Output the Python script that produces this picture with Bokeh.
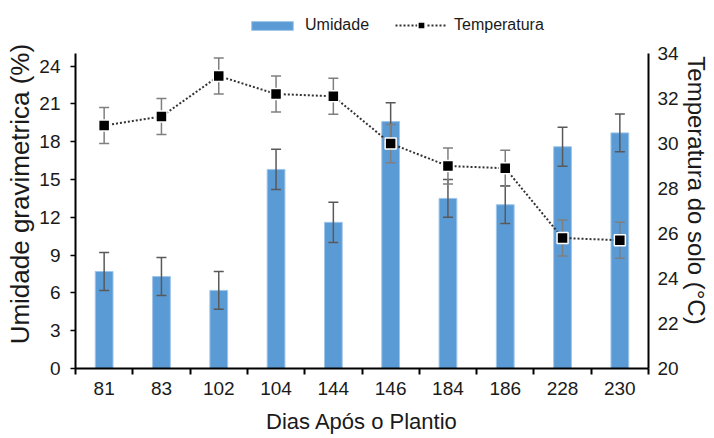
from bokeh.plotting import figure
from bokeh.models import (Range1d, LinearAxis, FixedTicker, Legend, LegendItem,
                          ColumnDataSource, Title)
from bokeh.embed import file_html
from bokeh.resources import INLINE

# ---- data ----
dias = ["81", "83", "102", "104", "144", "146", "184", "186", "228", "230"]
umidade = [7.7, 7.3, 6.2, 15.8, 11.6, 19.6, 13.5, 13.0, 17.6, 18.7]
umidade_err = [1.5, 1.5, 1.5, 1.6, 1.6, 1.5, 1.5, 1.5, 1.55, 1.5]
temperatura = [30.8, 31.2, 33.0, 32.2, 32.1, 30.0, 29.0, 28.9, 25.8, 25.7]
temp_err = [0.8, 0.8, 0.8, 0.8, 0.8, 0.85, 0.8, 0.8, 0.8, 0.8]
left_ticks = [0, 3, 6, 9, 12, 15, 18, 21, 24]
left_bounds = (0, 25)
right_ticks = [20, 22, 24, 26, 28, 30, 32, 34]
right_bounds = (20, 34)

FONT = "Liberation Sans"
BLUE = "#5B9BD5"
TXT = "#1a1a1a"

# frame geometry (pixels): axes span 315 px, frame extended 41 px above for legend
AXIS_PX, EXTRA_PX = 315, 41
scale = (AXIS_PX + EXTRA_PX) / AXIS_PX

xs = list(range(len(dias)))
src = ColumnDataSource(dict(
    x=xs,
    um=umidade,
    um_lo=[u - e for u, e in zip(umidade, umidade_err)],
    um_hi=[u + e for u, e in zip(umidade, umidade_err)],
    t=temperatura,
    t_lo=[t - e for t, e in zip(temperatura, temp_err)],
    t_hi=[t + e for t, e in zip(temperatura, temp_err)],
))

p = figure(width=714, height=438, output_backend="svg", toolbar_location=None,
           x_range=Range1d(-0.5, len(dias) - 0.5),
           y_range=Range1d(left_bounds[0],
                           left_bounds[0] + (left_bounds[1] - left_bounds[0]) * scale),
           min_border_left=75, min_border_right=66, min_border_top=12,
           min_border_bottom=70)
p.outline_line_color = None
p.xgrid.visible = False
p.ygrid.visible = False
p.extra_y_ranges = {"temp": Range1d(right_bounds[0],
                                    right_bounds[0] + (right_bounds[1] - right_bounds[0]) * scale)}

# bars
bars = p.vbar(x="x", top="um", width=0.31, source=src, fill_color=BLUE,
              line_color="#9FC5EA", line_width=1)
# bar error bars
p.segment(x0="x", x1="x", y0="um_lo", y1="um_hi", source=src,
          line_color="#595959", line_width=1.5)
p.scatter(x="x", y="um_lo", marker="dash", size=10, source=src,
          line_color="#595959", line_width=1.5)
p.scatter(x="x", y="um_hi", marker="dash", size=10, source=src,
          line_color="#595959", line_width=1.5)

# temperature
tline = p.line(x="x", y="t", source=src, y_range_name="temp",
               line_color="#333333", line_width=2, line_dash="2 2")
p.segment(x0="x", x1="x", y0="t_lo", y1="t_hi", source=src, y_range_name="temp",
          line_color="#7F7F7F", line_width=1.5)
p.scatter(x="x", y="t_lo", marker="dash", size=10, source=src, y_range_name="temp",
          line_color="#7F7F7F", line_width=1.5)
p.scatter(x="x", y="t_hi", marker="dash", size=10, source=src, y_range_name="temp",
          line_color="#7F7F7F", line_width=1.5)
tmark = p.scatter(x="x", y="t", marker="square", size=11, source=src,
                  y_range_name="temp", fill_color="black", line_color="white",
                  line_width=1.5)

# ---- axes ----
xa = p.xaxis[0]
xa.ticker = FixedTicker(ticks=xs, minor_ticks=[i - 0.5 for i in range(len(dias) + 1)])
xa.major_label_overrides = {i: lab for i, lab in enumerate(dias)}
xa.major_tick_line_color = None
xa.major_tick_out = 6
xa.minor_tick_in = 0
xa.minor_tick_out = 6
xa.minor_tick_line_color = "black"
xa.minor_tick_line_width = 2
xa.axis_line_width = 2
xa.axis_line_color = "black"
xa.major_label_text_font = FONT
xa.major_label_text_font_size = "19px"
xa.major_label_text_color = TXT
xa.major_label_standoff = 7
xa.axis_label = "Dias Após o Plantio"
xa.axis_label_text_font = FONT
xa.axis_label_text_font_size = "22px"
xa.axis_label_text_font_style = "normal"
xa.axis_label_text_color = TXT
xa.axis_label_standoff = 11

ya = p.yaxis[0]
ya.ticker = FixedTicker(ticks=left_ticks)
ya.bounds = left_bounds
ya.minor_tick_line_color = None
ya.major_tick_in = 0
ya.major_tick_out = 5
ya.major_tick_line_width = 1.5
ya.axis_line_width = 2
ya.axis_line_color = "black"
ya.major_label_text_font = FONT
ya.major_label_text_font_size = "19px"
ya.major_label_text_color = TXT
ya.major_label_standoff = 10

# left axis title, centred on the axis span (not on the extended frame)
ytitle = Title(text="Umidade gravimetrica  (%)", align="center", offset=-32,
               standoff=3, text_font=FONT, text_font_size="26px",
               text_font_style="normal", text_color=TXT)
p.add_layout(ytitle, "left")

ra = LinearAxis(y_range_name="temp", ticker=FixedTicker(ticks=right_ticks),
                bounds=right_bounds)
ra.minor_tick_line_color = None
ra.major_tick_line_color = None
ra.major_tick_in = 0
ra.major_tick_out = 0
ra.axis_line_width = 2
ra.axis_line_color = "black"
ra.major_label_text_font = FONT
ra.major_label_text_font_size = "19px"
ra.major_label_text_color = TXT
ra.major_label_standoff = 9
p.add_layout(ra, "right")

rtitle = Title(text="Temperatura do solo (°C)", align="center", offset=32,
               standoff=3, text_font=FONT, text_font_size="24px",
               text_font_style="normal", text_color=TXT)
p.add_layout(rtitle, "right")

# ---- legends (inside the extended frame, above the axes) ----
common = dict(orientation="horizontal", glyph_width=52, label_standoff=7,
              padding=0, margin=0, border_line_color=None,
              background_fill_alpha=0, label_text_font=FONT,
              label_text_font_size="16px", label_text_color=TXT)
leg1 = Legend(items=[LegendItem(label="Umidade", renderers=[bars])],
              location=(171, 334), glyph_height=11, **common)
leg2 = Legend(items=[LegendItem(label="Temperatura", renderers=[tline, tmark])],
              location=(320, 334), glyph_height=18, **common)
p.add_layout(leg1)
p.add_layout(leg2)

open("out.html", "w").write(file_html(p, INLINE))
